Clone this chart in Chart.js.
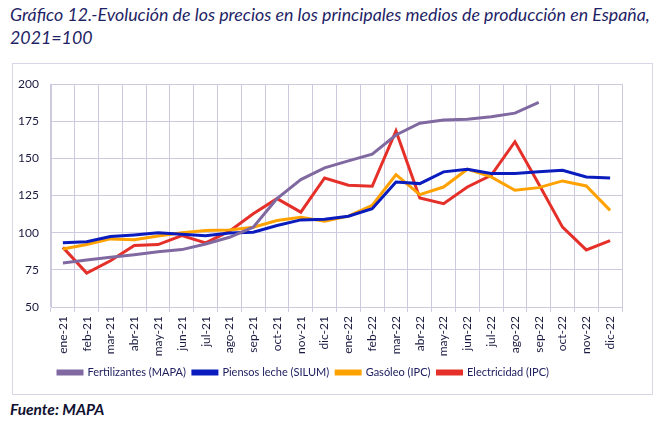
<!DOCTYPE html>
<html>
<head>
<meta charset="utf-8">
<script src="https://cdn.jsdelivr.net/npm/chart.js@4"></script>
<style>
  html, body { margin: 0; padding: 0; background: #ffffff; }
  body { width: 660px; height: 424px; position: relative; overflow: hidden; font-family: Lato, "Liberation Sans", sans-serif; }
  #title { position: absolute; left: 10px; top: 3px; font-style: italic; font-size: 17.8px; line-height: 23px; color: #1F1F66; white-space: nowrap; }
  #box { position: absolute; left: 12px; top: 63px; width: 639px; height: 330px; border: 1px solid #D9D4E6; }
  #src { position: absolute; left: 10px; top: 400px; font-style: italic; font-weight: bold; font-size: 15.5px; color: #101030; }
</style>
</head>
<body>
<div id="title">Gráfico 12.-Evolución de los precios en los principales medios de producción en España,<br>2021=100</div>
<div id="box"><canvas id="c" width="639" height="330"></canvas></div>
<div id="src">Fuente: MAPA</div>
<script>
const categories = ["ene-21","feb-21","mar-21","abr-21","may-21","jun-21","jul-21","ago-21","sep-21","oct-21","nov-21","dic-21",
                    "ene-22","feb-22","mar-22","abr-22","may-22","jun-22","jul-22","ago-22","sep-22","oct-22","nov-22","dic-22"];
const fertilizantes = [79.6, 81.6, 83.4, 85.2, 87.2, 88.6, 92.4, 96.9, 103.7, 122.9, 135.7, 143.6,
                       148.3, 152.8, 165.7, 173.6, 175.8, 176.3, 177.9, 180.4, 187.6, null, null, null];
const piensosLeche = [93.3, 93.9, 97.4, 98.5, 99.9, 99.0, 98.0, 99.8, 100.3, 104.8, 108.6, 109.0,
                      111.1, 116.1, 134.1, 133.0, 140.9, 142.7, 139.8, 139.8, 140.9, 142.0, 137.5, 136.8];
const gasoleo = [89.0, 92.0, 95.8, 95.2, 97.7, 99.9, 101.4, 101.8, 103.7, 108.2, 110.4, 107.7,
                 111.1, 118.3, 139.1, 125.6, 130.7, 142.7, 137.5, 128.5, 130.3, 134.8, 131.4, 115.0];
const electricidad = [90.1, 72.8, 81.1, 91.3, 92.0, 98.0, 93.1, 101.0, 112.7, 122.9, 113.8, 136.8,
                      131.9, 131.2, 168.4, 123.3, 119.5, 130.7, 138.6, 161.2, 132.7, 103.7, 88.4, 94.7];
const yTicks = { min: 50, max: 200, step: 25 };

const gridColor = '#CFC9E0';
const textColor = '#1A1A40';
const mk = (label, data, color) => ({
  label, data, borderColor: color, backgroundColor: color,
  borderWidth: 3, pointRadius: 0, pointHoverRadius: 0, tension: 0, fill: false, spanGaps: false
});

new Chart(document.getElementById('c'), {
  type: 'line',
  data: {
    labels: categories,
    datasets: [
      mk('Fertilizantes (MAPA)', fertilizantes, '#8069A0'),
      mk('Piensos leche (SILUM)', piensosLeche, '#0A1CBE'),
      mk('Gasóleo (IPC)', gasoleo, '#FFA200'),
      mk('Electricidad (IPC)', electricidad, '#E5302A')
    ]
  },
  options: {
    responsive: false,
    devicePixelRatio: 1,
    animation: false,
    layout: { padding: { top: 20, right: 30, left: 0, bottom: 6 } },
    plugins: {
      title: { display: false },
      tooltip: { enabled: false },
      legend: {
        position: 'bottom',
        align: 'start',
        fullSize: false,
        labels: {
          boxWidth: 24,
          boxHeight: 3,
          padding: 7,
          color: '#1F2060',
          font: { family: 'Lato', size: 11 }
        }
      }
    },
    scales: {
      x: {
        offset: true,
        grid: { offset: true, color: gridColor, lineWidth: 1, tickLength: 5, drawTicks: true },
        border: { color: gridColor },
        ticks: { autoSkip: false, maxRotation: 90, minRotation: 90, padding: 4, color: textColor, font: { family: 'Lato', size: 12 } },
        afterFit: (s) => { s.height = 53; }
      },
      y: {
        min: yTicks.min, max: yTicks.max,
        grid: { color: gridColor, lineWidth: 1, drawTicks: false },
        border: { color: gridColor },
        ticks: { stepSize: yTicks.step, padding: 12, color: textColor, font: { family: 'Lato', size: 12 } },
        afterFit: (s) => { s.width = 38; }
      }
    }
  }
});
</script>
</body>
</html>
